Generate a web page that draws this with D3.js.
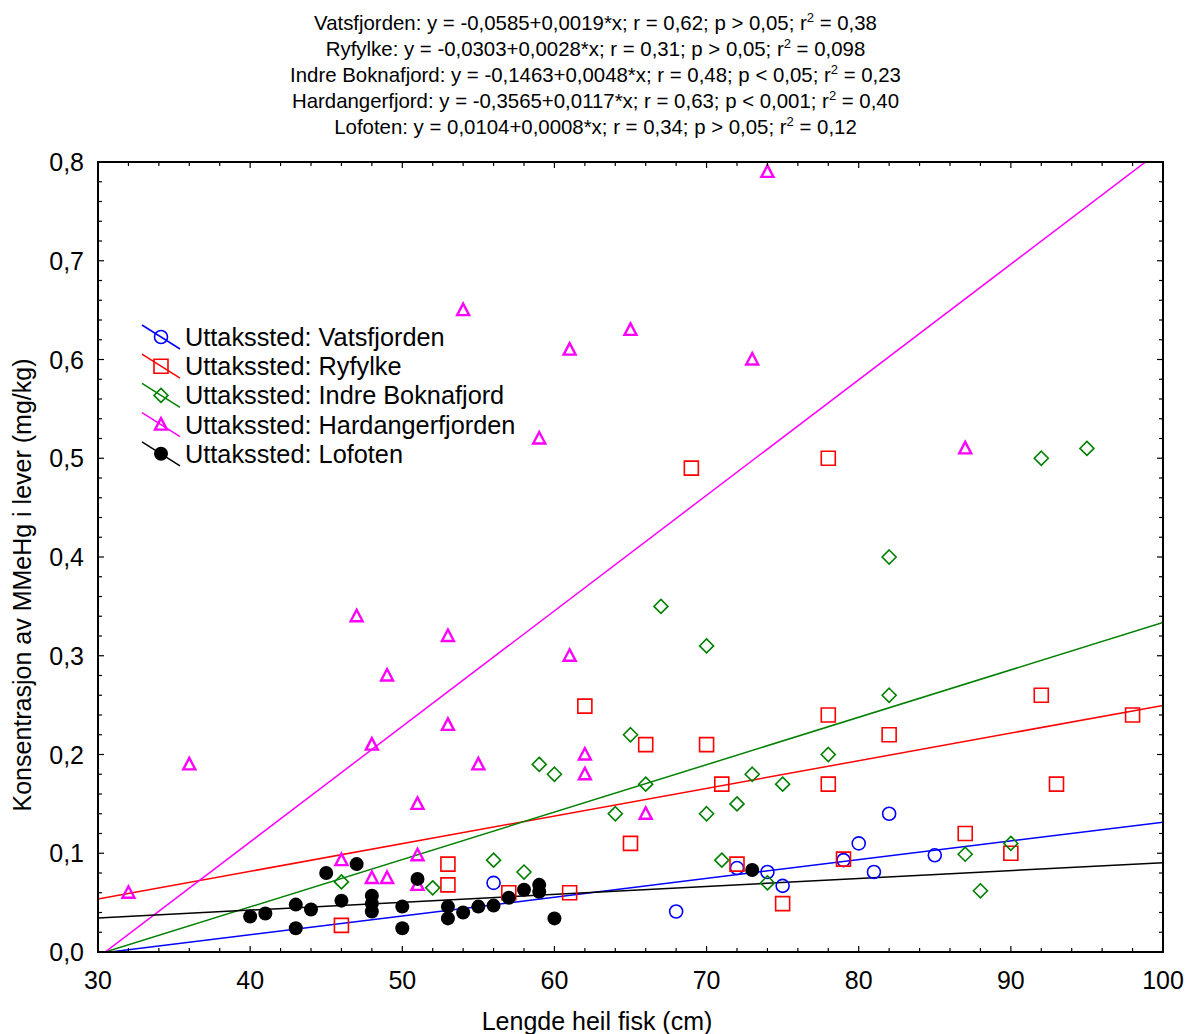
<!DOCTYPE html>
<html>
<head>
<meta charset="utf-8">
<script src="https://cdn.jsdelivr.net/npm/d3@7"></script>
<style>
body { margin: 0; background: #fff; }
svg { display: block; font-family: "Liberation Sans", Arial, sans-serif; }
.title-line { font-size: 20.4px; }
.tick-label { font-size: 25px; }
.axis-title { font-size: 25px; }
.legend-text { font-size: 25.3px; }
</style>
</head>
<body>
<svg id="chart" width="1187" height="1034"></svg>
<script>
const W = 1187, H = 1034;

// sites and colours
const sites = ["Vatsfjorden", "Ryfylke", "Indre Boknafjord", "Hardangerfjorden", "Lofoten"];
const colors = ["#0000ff", "#ff0000", "#008000", "#ff00ff", "#000000"];

// regression lines from the header
const intercepts = [-0.0585, -0.0303, -0.1463, -0.3565, 0.0104];
const slopes = [0.0019, 0.0028, 0.0048, 0.0117, 0.0008];

const headerLines = [
  ["Vatsfjorden: y = -0,0585+0,0019*x; r = 0,62; p > 0,05; r", " = 0,38"],
  ["Ryfylke: y = -0,0303+0,0028*x; r = 0,31; p > 0,05; r", " = 0,098"],
  ["Indre Boknafjord: y = -0,1463+0,0048*x; r = 0,48; p < 0,05; r", " = 0,23"],
  ["Hardangerfjord: y = -0,3565+0,0117*x; r = 0,63; p < 0,001; r", " = 0,40"],
  ["Lofoten: y = 0,0104+0,0008*x; r = 0,34; p > 0,05; r", " = 0,12"]
];

// points (length cm, MMeHg mg/kg)
const vatsX = [56, 68, 72, 74, 75, 79, 80, 81, 82, 85];
const vatsY = [0.070, 0.041, 0.085, 0.081, 0.067, 0.093, 0.110, 0.081, 0.140, 0.098];

const ryfX = [46, 53, 53, 57, 61, 62, 65, 66, 69, 70, 71, 72, 75, 78, 78, 78, 79, 82, 87, 90, 92, 93, 98];
const ryfY = [0.027, 0.089, 0.068, 0.060, 0.060, 0.249, 0.11, 0.21, 0.49, 0.21, 0.17, 0.089, 0.049, 0.50, 0.24, 0.17, 0.094, 0.22, 0.12, 0.10, 0.26, 0.17, 0.24];

const bokX = [46, 52, 56, 58, 59, 60, 64, 65, 66, 67, 70, 70, 71, 72, 73, 74, 75, 78, 82, 82, 87, 88, 90, 92, 95];
const bokY = [0.071, 0.065, 0.093, 0.081, 0.19, 0.18, 0.14, 0.22, 0.17, 0.35, 0.31, 0.14, 0.093, 0.15, 0.18, 0.070, 0.17, 0.20, 0.26, 0.40, 0.099, 0.062, 0.11, 0.50, 0.51];

const harX = [32, 36, 46, 47, 48, 48, 49, 49, 51, 51, 51, 53, 53, 54, 55, 59, 61, 61, 62, 62, 65, 66, 73, 74, 87];
const harY = [0.060, 0.19, 0.093, 0.34, 0.21, 0.075, 0.28, 0.075, 0.15, 0.098, 0.068, 0.32, 0.23, 0.65, 0.19, 0.52, 0.61, 0.30, 0.20, 0.18, 0.63, 0.14, 0.60, 0.79, 0.51];

const lofX = [40, 41, 43, 43, 44, 45, 46, 47, 48, 48, 48, 50, 50, 51, 53, 53, 54, 55, 56, 57, 58, 59, 59, 60, 73];
const lofY = [0.036, 0.039, 0.048, 0.024, 0.043, 0.080, 0.052, 0.089, 0.057, 0.049, 0.041, 0.046, 0.024, 0.074, 0.046, 0.034, 0.040, 0.046, 0.047, 0.055, 0.063, 0.068, 0.061, 0.034, 0.083];

const seriesX = [vatsX, ryfX, bokX, harX, lofX];
const seriesY = [vatsY, ryfY, bokY, harY, lofY];

const xTicks = [30, 40, 50, 60, 70, 80, 90, 100];
const yTicks = [0, 0.1, 0.2, 0.3, 0.4, 0.5, 0.6, 0.7, 0.8];

const plotLeft = 98, plotRight = 1163, plotTop = 162, plotBottom = 952;

var svg = d3.select("#chart");

var x = d3.scaleLinear().domain([30, 100]).range([plotLeft, plotRight]);
var y = d3.scaleLinear().domain([0, 0.8]).range([plotBottom, plotTop]);

var comma = function(v) { return d3.format(".1f")(v).replace(".", ","); };

// header
var header = svg.append("g");
headerLines.forEach(function(parts, i) {
  var t = header.append("text")
    .attr("class", "title-line")
    .attr("x", W / 2 + 2)
    .attr("y", 30 + i * 26)
    .attr("text-anchor", "middle");
  t.append("tspan").text(parts[0]);
  t.append("tspan").attr("dy", -8).attr("font-size", 13).text("2");
  t.append("tspan").attr("dy", 8).text(parts[1]);
});

// clip for regression lines
svg.append("clipPath").attr("id", "plot-clip")
  .append("rect")
  .attr("x", plotLeft).attr("y", plotTop)
  .attr("width", plotRight - plotLeft).attr("height", plotBottom - plotTop);

// marker shapes
function markerPath(i) {
  if (i === 1) return "M-7,-7H7V7H-7Z";
  if (i === 2) return "M0,-7L7,0L0,7L-7,0Z";
  if (i === 3) return "M0,-6.5L6,5L-6,5Z";
  return null;
}

function drawMarker(g, i, cx, cy) {
  var c = colors[i];
  if (i === 0) {
    g.append("circle").attr("cx", cx).attr("cy", cy).attr("r", 6.5)
      .attr("fill", "none").attr("stroke", c).attr("stroke-width", 1.6);
  } else if (i === 4) {
    g.append("circle").attr("cx", cx).attr("cy", cy).attr("r", 7)
      .attr("fill", c);
  } else {
    g.append("path").attr("d", markerPath(i))
      .attr("transform", "translate(" + cx + "," + cy + ")")
      .attr("fill", "none").attr("stroke", c)
      .attr("stroke-width", i === 3 ? 2.4 : 1.6);
  }
}

// regression lines
var lines = svg.append("g").attr("clip-path", "url(#plot-clip)");
sites.forEach(function(s, i) {
  lines.append("line")
    .attr("x1", x(30)).attr("y1", y(intercepts[i] + slopes[i] * 30))
    .attr("x2", x(100)).attr("y2", y(intercepts[i] + slopes[i] * 100))
    .attr("stroke", colors[i])
    .attr("stroke-width", 1.5);
});

// points
var pts = svg.append("g");
sites.forEach(function(s, i) {
  var g = pts.append("g").attr("class", "series-" + i);
  seriesX[i].forEach(function(v, j) {
    drawMarker(g, i, x(v), y(seriesY[i][j]));
  });
});

// frame and ticks
var axes = svg.append("g").attr("stroke", "#000");
axes.append("rect")
  .attr("x", plotLeft).attr("y", plotTop)
  .attr("width", plotRight - plotLeft).attr("height", plotBottom - plotTop)
  .attr("fill", "none").attr("stroke-width", 2);

var xMinor = d3.range(30, 100.01, 2);
var yMinor = d3.range(0, 0.8001, 0.02);

xMinor.forEach(function(v) {
  var len = (Math.round(v) % 10 === 0) ? 6 : 4;
  axes.append("line").attr("x1", x(v)).attr("x2", x(v))
    .attr("y1", plotBottom).attr("y2", plotBottom - len).attr("stroke-width", 1.2);
  axes.append("line").attr("x1", x(v)).attr("x2", x(v))
    .attr("y1", plotTop).attr("y2", plotTop + len).attr("stroke-width", 1.2);
});
yMinor.forEach(function(v, k) {
  var len = (k % 5 === 0) ? 6 : 4;
  axes.append("line").attr("y1", y(v)).attr("y2", y(v))
    .attr("x1", plotLeft).attr("x2", plotLeft + len).attr("stroke-width", 1.2);
  axes.append("line").attr("y1", y(v)).attr("y2", y(v))
    .attr("x1", plotRight).attr("x2", plotRight - len).attr("stroke-width", 1.2);
});

// tick labels
svg.append("g").selectAll("text")
  .data(xTicks).enter().append("text")
  .attr("class", "tick-label")
  .attr("x", function(d) { return x(d); })
  .attr("y", 989)
  .attr("text-anchor", "middle")
  .text(function(d) { return d; });

svg.append("g").selectAll("text")
  .data(yTicks).enter().append("text")
  .attr("class", "tick-label")
  .attr("x", 84)
  .attr("y", function(d) { return y(d) + 9; })
  .attr("text-anchor", "end")
  .text(function(d) { return comma(d); });

// axis titles
svg.append("text")
  .attr("class", "axis-title")
  .attr("x", 597).attr("y", 1030)
  .attr("text-anchor", "middle")
  .text("Lengde heil fisk (cm)");

svg.append("text")
  .attr("class", "axis-title")
  .attr("transform", "translate(31,585) rotate(-90)")
  .attr("text-anchor", "middle")
  .text("Konsentrasjon av MMeHg i lever (mg/kg)");

// legend
var legend = svg.append("g");
sites.forEach(function(s, i) {
  var cy = 337 + i * 29.2, cx = 161;
  legend.append("line")
    .attr("x1", cx - 19).attr("y1", cy - 12)
    .attr("x2", cx + 19).attr("y2", cy + 12)
    .attr("stroke", colors[i]).attr("stroke-width", 1.5);
  drawMarker(legend, i, cx, cy);
  legend.append("text")
    .attr("class", "legend-text")
    .attr("x", 185).attr("y", cy + 9)
    .text("Uttakssted: " + s);
});
</script>
</body>
</html>
